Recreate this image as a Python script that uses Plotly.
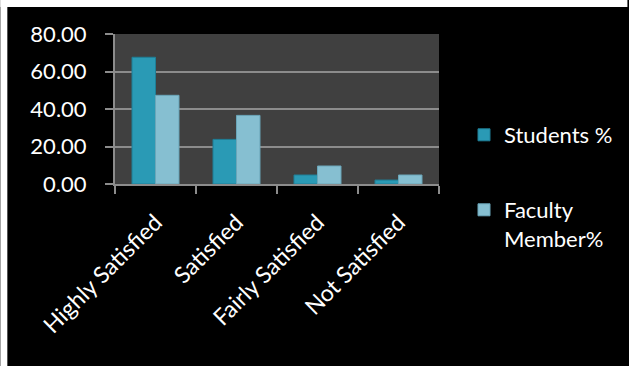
import plotly.graph_objects as go

categories = ["Highly Satisfied", "Satisfied", "Fairly Satisfied", "Not Satisfied"]
students = [67.6, 23.8, 4.8, 2.1]
faculty = [47.3, 36.6, 9.6, 4.8]
y_ticks = [0, 20, 40, 60, 80]

FONT = "Lato, 'Open Sans', sans-serif"
W, H = 629, 366
L, R, T, B = 115, 189, 34, 182
PW = W - L - R
PH = H - T - B

def px_x(x):
    return (x - L) / PW

def px_y(y):
    return (H - B - y) / PH

fig = go.Figure()
fig.add_trace(go.Bar(
    x=categories, y=students, name="Students %",
    marker=dict(color="#2A9AB5", line=dict(color="#1E7F97", width=1)),
    legend="legend", showlegend=True,
))
fig.add_trace(go.Bar(
    x=categories, y=faculty, name="Faculty<br>Member%",
    marker=dict(color="#86BFD1", line=dict(color="#6AA6B9", width=1)),
    legend="legend2", showlegend=True,
))

fig.update_layout(
    width=W, height=H,
    margin=dict(l=L, r=R, t=T, b=B),
    paper_bgcolor="black",
    plot_bgcolor="#404040",
    showlegend=True,
    barmode="group",
    bargap=0.42,
    bargroupgap=0,
    font=dict(family=FONT, size=22, color="white"),
    xaxis=dict(
        showgrid=False, showline=True, linecolor="#8C8C8C", linewidth=2,
        ticks="outside", tickson="boundaries", ticklen=8, tickcolor="#8C8C8C", tickwidth=2,
        tickangle=-45, ticklabelstandoff=14,
        tickfont=dict(family=FONT, size=23, color="white"),
    ),
    yaxis=dict(
        range=[0, 80], tickvals=y_ticks, tickformat=".2f",
        showgrid=True, gridcolor="#8C8C8C", gridwidth=2,
        showline=True, linecolor="#8C8C8C", linewidth=2,
        ticks="outside", ticklen=8, tickcolor="#8C8C8C", tickwidth=2,
        ticklabelstandoff=14,
        tickfont=dict(family=FONT, size=22, color="white"),
        zeroline=False,
    ),
    legend=dict(
        x=px_x(464), xanchor="left", y=px_y(135), yanchor="middle",
        bgcolor="rgba(0,0,0,0)", font=dict(family=FONT, size=22, color="white"),
    ),
    legend2=dict(
        x=px_x(464), xanchor="left", y=px_y(189), yanchor="top", valign="top",
        bgcolor="rgba(0,0,0,0)", font=dict(family=FONT, size=22, color="white"),
    ),
    shapes=[
        dict(type="rect", xref="paper", yref="paper",
             x0=px_x(0), x1=px_x(W), y0=px_y(7), y1=px_y(0), line=dict(width=0), fillcolor="white", layer="above"),
        dict(type="rect", xref="paper", yref="paper",
             x0=px_x(0), x1=px_x(7), y0=px_y(H), y1=px_y(0), line=dict(width=0), fillcolor="white", layer="above"),
    ],
)

fig.write_html("out.html")
